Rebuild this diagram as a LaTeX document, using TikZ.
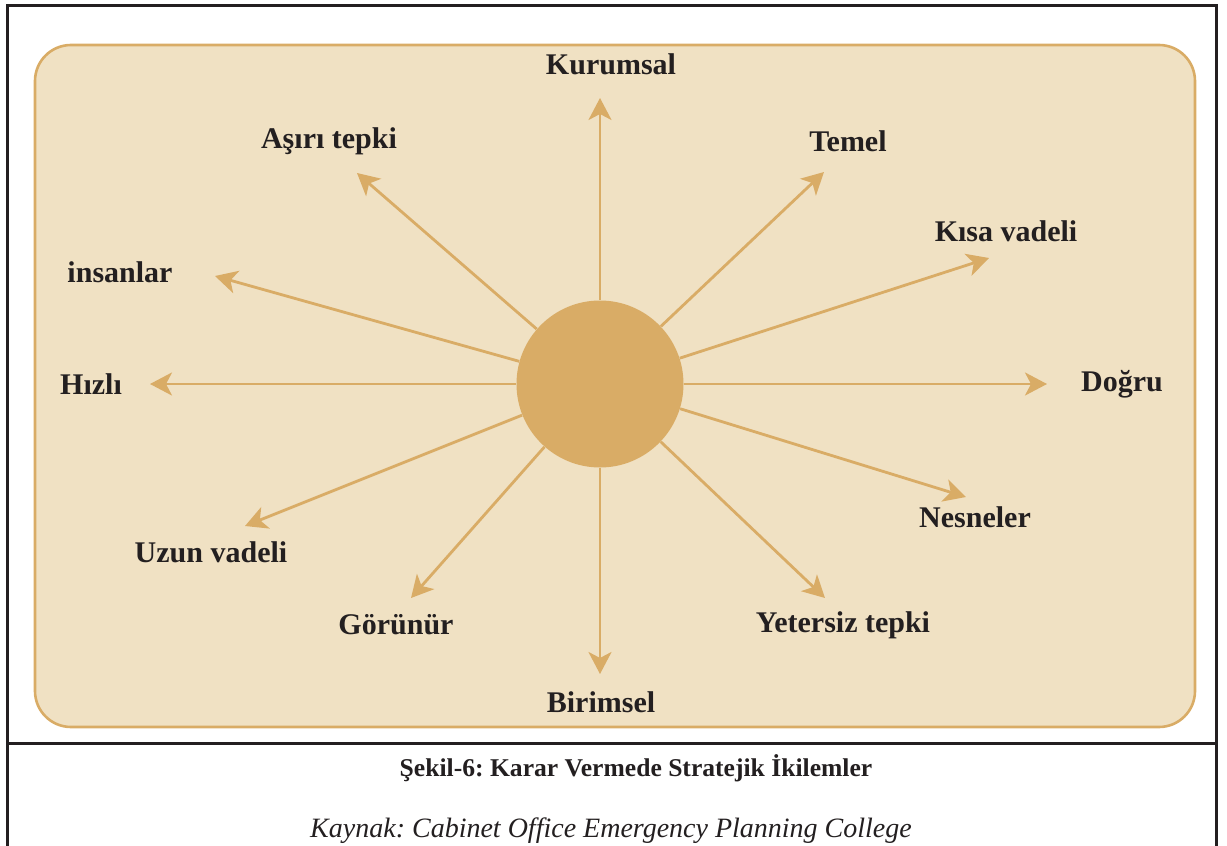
\documentclass[tikz,border=0pt]{standalone}
\usepackage{fontspec}
\setmainfont{Liberation Serif}
\usetikzlibrary{arrows.meta}
\definecolor{gold}{HTML}{D9AC66}
\definecolor{sand}{HTML}{F0E1C3}
\definecolor{ink}{HTML}{231F20}
\frenchspacing
\begin{document}
\begin{tikzpicture}[x=0.5pt,y=-0.5pt,
  lbl/.style={font=\bfseries\fontsize{15}{17}\selectfont, text=ink, inner sep=0pt},
  ray/.style={draw=gold, line width=1.4pt, -{Stealth[length=11pt,width=11.5pt,inset=3pt]}},
  frame/.style={draw=ink, line width=1.5pt}]
\useasboundingbox (0,0) rectangle (1227,846);
% outer frame and caption divider
\draw[frame] (7,870) -- (7,5) -- (1216,5) -- (1216,870);
\draw[frame] (7,743) -- (1216,743);
% sand panel
\draw[gold, fill=sand, line width=1.3pt, rounded corners=18pt] (35,45) rectangle (1195,727);
% central hub
\node[circle, fill=gold, minimum size=83.5pt, inner sep=0pt] (hub) at (600,384) {};
% arrow tips
\coordinate (tKur) at (600,98);
\coordinate (tTem) at (824,172);
\coordinate (tKis) at (989,258);
\coordinate (tDog) at (1047,384);
\coordinate (tNes) at (966,497);
\coordinate (tYet) at (825,598);
\coordinate (tBir) at (600,674);
\coordinate (tGor) at (411,598);
\coordinate (tUzu) at (245,526);
\coordinate (tHiz) at (150,384);
\coordinate (tIns) at (215,276);
\coordinate (tAsi) at (357,173);
\foreach \t in {tKur,tTem,tKis,tDog,tNes,tYet,tBir,tGor,tUzu,tHiz,tIns,tAsi}
  \draw[ray] (hub) -- (\t);
% labels
\node[lbl] (lKur) at (611,64) {Kurumsal};
\node[lbl] (lTem) at (848,141) {Temel};
\node[lbl] (lKis) at (1006,231) {Kısa vadeli};
\node[lbl] (lDog) at (1122,384) {Doğru};
\node[lbl] (lNes) at (975,517) {Nesneler};
\node[lbl] (lYet) at (843,625) {Yetersiz tepki};
\node[lbl] (lBir) at (601,702) {Birimsel};
\node[lbl] (lGor) at (396,625) {Görünür};
\node[lbl] (lUzu) at (211,552) {Uzun vadeli};
\node[lbl] (lHiz) at (91,384) {Hızlı};
\node[lbl] (lIns) at (120,272) {insanlar};
\node[lbl] (lAsi) at (329,141) {Aşırı tepki};
% caption
\node[text=ink, font=\bfseries\fontsize{12.8}{15}\selectfont] (cap) at (636,768) {Şekil-6: Karar Vermede Stratejik İkilemler};
\node[text=ink, font=\itshape\fontsize{14}{16}\selectfont] (src) at (611,831) {Kaynak: Cabinet Office Emergency Planning College};
\end{tikzpicture}
\end{document}
